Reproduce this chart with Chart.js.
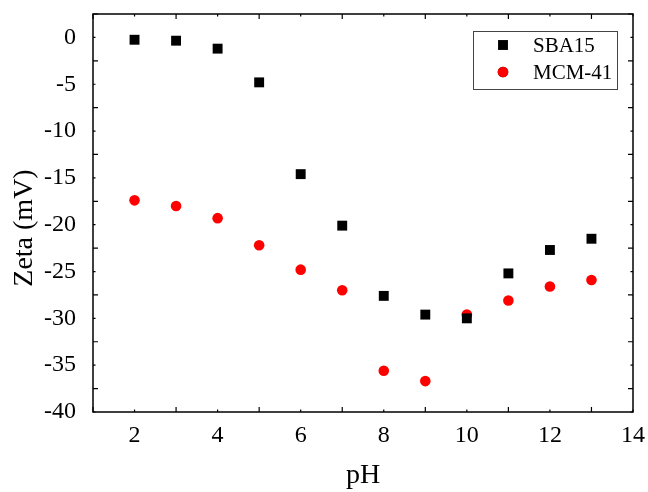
<!DOCTYPE html>
<html>
<head>
<meta charset="utf-8">
<script src="https://cdn.jsdelivr.net/npm/chart.js@4.4.1/dist/chart.umd.min.js"></script>
<style>
  html, body { margin: 0; padding: 0; background: #fff; }
  #wrap { width: 648px; height: 492px; }
</style>
</head>
<body>
<div id="wrap"><canvas id="c" width="648" height="492"></canvas></div>
<script>
// ---- data ----
const pH = [2, 3, 4, 5, 6, 7, 8, 9, 10, 11, 12, 13];
const sba15 = [-0.25, -0.35, -1.2, -4.8, -14.6, -20.1, -27.6, -29.6, -30.0, -25.2, -22.7, -21.5];
const mcm41 = [-17.4, -18.0, -19.3, -22.2, -24.8, -27.0, -35.6, -36.7, -29.6, -28.1, -26.6, -25.9];
const xTickLabels = [2, 4, 6, 8, 10, 12, 14];
const yTickLabels = [0, -5, -10, -15, -20, -25, -30, -35, -40];
const seriesNames = ['SBA15', 'MCM-41'];
const xTitle = 'pH';
const yTitle = 'Zeta (mV)';

const FONT = '"Liberation Serif", "Times New Roman", serif';

const framePlugin = {
  id: 'frame',
  beforeDatasetsDraw(chart) {
    const { ctx, chartArea: a, scales } = chart;
    const xs = scales.x, ys = scales.y;
    ctx.save();
    ctx.strokeStyle = '#000';
    ctx.lineWidth = 1.5;
    ctx.strokeRect(a.left, a.top, a.right - a.left, a.bottom - a.top);
    ctx.lineWidth = 1.2;
    ctx.beginPath();
    for (let v = xs.min; v <= xs.max + 1e-9; v += 1) {
      const p = xs.getPixelForValue(v);
      const len = xTickLabels.includes(v) ? 2.5 : 5;
      ctx.moveTo(p, a.bottom); ctx.lineTo(p, a.bottom - len);
      ctx.moveTo(p, a.top); ctx.lineTo(p, a.top + len);
    }
    for (let v = ys.max; v >= ys.min - 1e-9; v -= 2.5) {
      const p = ys.getPixelForValue(v);
      const len = yTickLabels.includes(v) ? 2.5 : 5;
      ctx.moveTo(a.left, p); ctx.lineTo(a.left + len, p);
      ctx.moveTo(a.right, p); ctx.lineTo(a.right - len, p);
    }
    ctx.stroke();
    // y axis title
    ctx.fillStyle = '#000';
    ctx.font = '28px ' + FONT;
    ctx.textAlign = 'center';
    ctx.textBaseline = 'middle';
    ctx.translate(25, 228);
    ctx.rotate(-Math.PI / 2);
    ctx.fillText(yTitle, 0, 0);
    ctx.restore();
  }
};

const legendPlugin = {
  id: 'boxLegend',
  afterDraw(chart) {
    const { ctx } = chart;
    const bx = 473, by = 31, bw = 144, bh = 58;
    ctx.save();
    ctx.fillStyle = '#fff';
    ctx.fillRect(bx, by, bw, bh);
    ctx.strokeStyle = '#444';
    ctx.lineWidth = 1;
    ctx.strokeRect(bx + 0.5, by + 0.5, bw, bh);
    chart.data.datasets.forEach((ds, i) => {
      const cy = by + 14 + i * 27;
      const cx = bx + 30;
      Chart.helpers.drawPoint(ctx, {
        pointStyle: ds.pointStyle,
        radius: ds.pointRadius,
        borderWidth: 0
      }, cx, cy);
      ctx.fillStyle = ds.backgroundColor;
      ctx.fill();
      ctx.fillStyle = '#000';
      ctx.font = '21px ' + FONT;
      ctx.textBaseline = 'middle';
      ctx.textAlign = 'left';
      ctx.fillText(ds.label, bx + 60, cy + 1);
    });
    ctx.restore();
  }
};

new Chart(document.getElementById('c'), {
  type: 'scatter',
  data: {
    datasets: [
      {
        label: seriesNames[0],
        data: pH.map((x, i) => ({ x, y: sba15[i] })),
        pointStyle: 'rect',
        pointRadius: 7,
        pointHoverRadius: 7,
        backgroundColor: '#000',
        borderColor: '#000',
        borderWidth: 0
      },
      {
        label: seriesNames[1],
        data: pH.map((x, i) => ({ x, y: mcm41[i] })),
        pointStyle: 'circle',
        pointRadius: 5.3,
        pointHoverRadius: 5.3,
        backgroundColor: '#ff0000',
        borderColor: '#ff0000',
        borderWidth: 0
      }
    ]
  },
  options: {
    responsive: false,
    animation: false,
    devicePixelRatio: 1,
    layout: { padding: { left: 0, right: 15, top: 14, bottom: 0 } },
    plugins: { legend: { display: false }, tooltip: { enabled: false } },
    scales: {
      x: {
        type: 'linear',
        min: 1, max: 14,
        grid: { display: false },
        border: { display: false },
        afterBuildTicks: (s) => { s.ticks = xTickLabels.map(v => ({ value: v })); },
        afterFit: (s) => { s.height = 80; s.paddingLeft = 0; s.paddingRight = 0; },
        ticks: { color: '#000', font: { family: FONT, size: 24 }, padding: 1, maxRotation: 0 },
        title: { display: true, text: xTitle, color: '#000', font: { family: FONT, size: 28 }, padding: { top: 0, bottom: 0 } }
      },
      y: {
        type: 'linear',
        min: -40, max: 2.5,
        grid: { display: false },
        border: { display: false },
        afterBuildTicks: (s) => { s.ticks = yTickLabels.map(v => ({ value: v })); },
        afterFit: (s) => { s.width = 93; s.paddingTop = 0; s.paddingBottom = 0; },
        ticks: { color: '#000', font: { family: FONT, size: 24 }, padding: 9 },
        title: { display: false }
      }
    }
  },
  plugins: [framePlugin, legendPlugin]
});
</script>
</body>
</html>
